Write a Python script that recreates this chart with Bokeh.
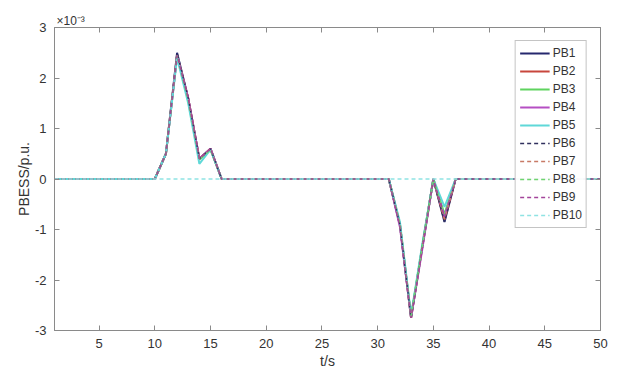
from bokeh.plotting import figure
from bokeh.models import (LinearAxis, Legend, LegendItem, FixedTicker, Range1d)
from bokeh.embed import file_html
from bokeh.resources import INLINE

# time breakpoints (s) and PBESS values (x 1e-3 p.u.)
t = [1, 10, 11, 12, 13, 14, 15, 16, 31, 32, 33, 34, 35, 36, 37, 50]
PB1 = [0, 0, 0.5, 2.5, 1.6, 0.4, 0.6, 0, 0, -0.9, -2.75, -1.35, 0, -0.85, 0, 0]
PB2 = [0, 0, 0.5, 2.45, 1.6, 0.4, 0.6, 0, 0, -0.9, -2.75, -1.35, 0, -0.8, 0, 0]
PB3 = [0, 0, 0.5, 2.45, 1.55, 0.38, 0.58, 0, 0, -0.9, -2.72, -1.35, 0, -0.7, 0, 0]
PB4 = [0, 0, 0.5, 2.45, 1.6, 0.4, 0.6, 0, 0, -0.95, -2.75, -1.4, 0, -0.75, 0, 0]
PB5 = [0, 0, 0.5, 2.4, 1.5, 0.3, 0.58, 0, 0, -0.85, -2.7, -1.3, 0, -0.55, 0, 0]
PB6 = [0, 0, 0.5, 2.5, 1.6, 0.4, 0.6, 0, 0, -0.9, -2.75, -1.35, 0, -0.85, 0, 0]
PB7 = [0, 0, 0.5, 2.45, 1.6, 0.4, 0.6, 0, 0, -0.9, -2.75, -1.35, 0, -0.8, 0, 0]
PB8 = [0, 0, 0.5, 2.45, 1.55, 0.38, 0.58, 0, 0, -0.9, -2.72, -1.35, 0, -0.7, 0, 0]
PB9 = [0, 0, 0.5, 2.45, 1.6, 0.4, 0.6, 0, 0, -0.95, -2.75, -1.4, 0, -0.75, 0, 0]
PB10 = [0, 0, 0, 0, 0, 0, 0, 0, 0, 0, 0, 0, 0, 0, 0, 0]

names = ["PB1", "PB2", "PB3", "PB4", "PB5", "PB6", "PB7", "PB8", "PB9", "PB10"]
series = [PB1, PB2, PB3, PB4, PB5, PB6, PB7, PB8, PB9, PB10]
colors = ["#26286e", "#c8463c", "#5fd35f", "#b54fc3", "#5fd8d8",
          "#30305e", "#c87a66", "#6fd46f", "#a3449a", "#8fe3e3"]
dashes = ["solid"] * 5 + ["4 3"] * 5

x_ticks = [5, 10, 15, 20, 25, 30, 35, 40, 45, 50]
y_ticks = [-3, -2, -1, 0, 1, 2, 3]
y_tick_labels = ["-3", "-2", "-1", "0", "1", "2", "3"]

FONT = "Liberation Sans"
AX = "#8a8a8a"
TXT = "#333333"

p = figure(width=619, height=378, output_backend="svg", toolbar_location=None,
           x_range=Range1d(1, 50), y_range=Range1d(-3, 3),
           min_border_left=54, min_border_right=19, min_border_top=27,
           min_border_bottom=48, background_fill_color="white",
           border_fill_color="white")
p.grid.visible = False
p.outline_line_color = AX
p.outline_line_width = 1

p.title.text = "×10⁻³"
p.title.align = "left"
p.title.offset = 2
p.title.text_font = FONT
p.title.text_font_size = "12px"
p.title.text_font_style = "normal"
p.title.text_color = TXT
p.title.standoff = 0

items = []
for n, s, c, d in zip(names, series, colors, dashes):
    r = p.line(t, s, line_color=c, line_width=2.0 if d == "solid" else 1.4,
               line_dash=d)
    items.append(LegendItem(label=n, renderers=[r]))

def style(ax):
    ax.axis_line_color = AX
    ax.major_tick_line_color = AX
    ax.major_tick_in = 5
    ax.major_tick_out = 0
    ax.minor_tick_line_color = None
    ax.major_label_text_font = FONT
    ax.major_label_text_font_size = "13px"
    ax.major_label_text_color = TXT

p.xaxis.ticker = FixedTicker(ticks=x_ticks)
p.yaxis.ticker = FixedTicker(ticks=y_ticks)
p.yaxis.major_label_overrides = dict(zip(y_ticks, y_tick_labels))
style(p.xaxis[0])
style(p.yaxis[0])
p.xaxis.axis_label = "t/s"
p.yaxis.axis_label = "PBESS/p.u."
for ax in (p.xaxis[0], p.yaxis[0]):
    ax.axis_label_text_font = FONT
    ax.axis_label_text_font_size = "14px"
    ax.axis_label_text_font_style = "normal"
    ax.axis_label_text_color = TXT
p.xaxis.axis_label_standoff = 2
p.yaxis.axis_label_standoff = 0
p.xaxis.major_label_standoff = 8
p.yaxis.major_label_standoff = 8

top = LinearAxis(ticker=FixedTicker(ticks=x_ticks))
style(top)
top.major_label_text_font_size = "0px"
top.major_label_standoff = 0
top.major_label_overrides = {v: "" for v in x_ticks}
p.add_layout(top, "above")
right = LinearAxis(ticker=FixedTicker(ticks=y_ticks))
style(right)
right.major_label_text_font_size = "0px"
right.major_label_standoff = 0
right.major_label_overrides = {v: "" for v in y_ticks}
p.add_layout(right, "right")

leg = Legend(items=items, location="top_right")
leg.margin = 13
leg.padding = 4
leg.spacing = 2
leg.label_height = 16
leg.glyph_height = 16
leg.glyph_width = 30
leg.label_standoff = 3
leg.label_text_font = FONT
leg.label_text_font_size = "12px"
leg.label_text_color = TXT
leg.border_line_color = AX
leg.background_fill_color = "white"
p.add_layout(leg)

open("out.html", "w").write(file_html(p, INLINE))
